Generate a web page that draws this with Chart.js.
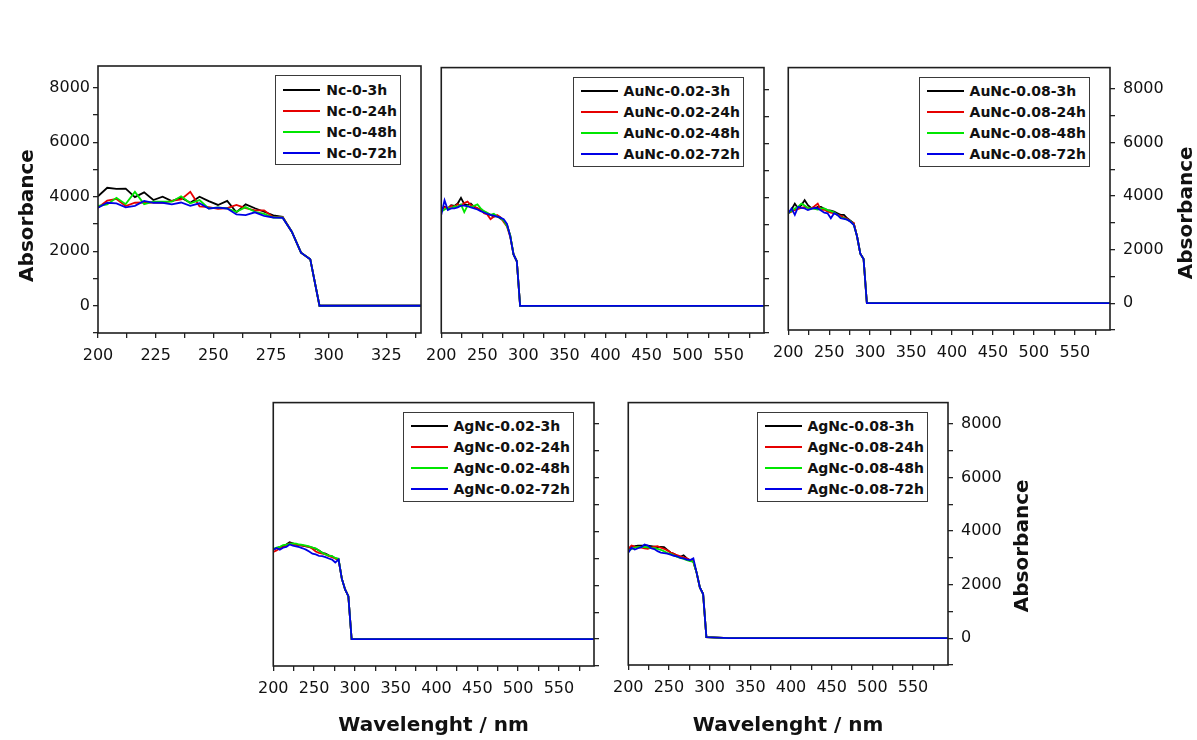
<!DOCTYPE html>
<html>
<head>
<meta charset="utf-8">
<script src="https://cdn.jsdelivr.net/npm/chart.js@4.4.1/dist/chart.umd.min.js"></script>
<style>
  html, body { margin: 0; padding: 0; background: #fff; overflow: hidden; }
  #figure { position: relative; width: 1197px; height: 740px; }
  .panel { position: absolute; }
  .panel canvas { display: block; }
  .legend { position: absolute; background: #fff; border: 1.5px solid #3a3a3a; padding: 3px 3px 1px 7px; }
  .legend div { display: flex; align-items: center; height: 21px; font: bold 14px "DejaVu Sans", sans-serif; color: #111; white-space: nowrap; }
  .legend span { display: inline-block; width: 37px; height: 2px; margin-right: 6px; }
</style>
</head>
<body>
<div id="figure">
  <div class="panel" style="left:0px;top:50px"><canvas id="c1" width="432" height="320"></canvas></div>
  <div class="panel" style="left:418px;top:50px"><canvas id="c2" width="362" height="320"></canvas></div>
  <div class="panel" style="left:765px;top:50px"><canvas id="c3" width="432" height="320"></canvas></div>
  <div class="panel" style="left:250px;top:385px"><canvas id="c4" width="370" height="355"></canvas></div>
  <div class="panel" style="left:605px;top:385px"><canvas id="c5" width="460" height="355"></canvas></div>
</div>
<script>
// wavelength grid (nm) shared by every spectrum
const wavelength = [200, 204, 208, 212, 216, 220, 224, 228, 232, 236, 240, 244, 248, 252,
  256, 260, 264, 268, 272, 276, 280, 284, 288, 292, 296, 324, 600];

// absorbance ticks; every second one carries a label
const absTicks = [-1000, 0, 1000, 2000, 3000, 4000, 5000, 6000, 7000, 8000];

const hours = ['3h', '24h', '48h', '72h'];
const lineColors = ['#000000', '#e60000', '#00e600', '#0000e6'];

// Nc-0
const nc0_3h  = [4020, 4330, 4290, 4300, 3990, 4160, 3880, 4000, 3840, 3970, 3780, 4000, 3840, 3700, 3850, 3430, 3720, 3580, 3450, 3320, 3260, 2720, 1950, 1710, 0, 0, 0];
const nc0_24h = [3600, 3860, 3920, 3660, 3780, 3790, 3790, 3780, 3850, 3900, 4180, 3650, 3620, 3560, 3580, 3700, 3580, 3500, 3500, 3250, 3260, 2720, 1950, 1710, 0, 0, 0];
const nc0_48h = [3660, 3720, 3960, 3730, 4180, 3730, 3820, 3820, 3820, 4020, 3760, 3880, 3570, 3610, 3570, 3450, 3620, 3450, 3370, 3240, 3240, 2720, 1950, 1710, 0, 0, 0];
const nc0_72h = [3600, 3780, 3760, 3610, 3670, 3850, 3780, 3780, 3720, 3790, 3670, 3760, 3570, 3600, 3570, 3350, 3330, 3430, 3300, 3240, 3230, 2720, 1950, 1710, 0, 0, 0];

// AuNc-0.02
const au02_3h  = [3540, 3660, 3600, 3720, 3690, 3780, 3990, 3760, 3720, 3780, 3660, 3600, 3540, 3480, 3420, 3360, 3300, 3320, 3230, 3150, 3000, 2600, 1900, 1650, 0, 0, 0];
const au02_24h = [3600, 3640, 3600, 3700, 3660, 3750, 3700, 3800, 3850, 3720, 3680, 3600, 3560, 3420, 3380, 3200, 3300, 3360, 3280, 3100, 2930, 2550, 1900, 1650, 0, 0, 0];
const au02_48h = [3480, 3560, 3620, 3600, 3680, 3660, 3750, 3460, 3700, 3650, 3700, 3750, 3600, 3500, 3440, 3360, 3400, 3300, 3250, 3150, 2950, 2600, 1900, 1650, 0, 0, 0];
const au02_72h = [3360, 3900, 3540, 3600, 3600, 3640, 3700, 3700, 3680, 3640, 3600, 3560, 3500, 3450, 3400, 3360, 3330, 3300, 3260, 3200, 3030, 2560, 1900, 1650, 0, 0, 0];

// AuNc-0.08
const au08_3h  = [3360, 3500, 3720, 3540, 3660, 3850, 3660, 3560, 3540, 3600, 3600, 3520, 3480, 3460, 3420, 3360, 3300, 3300, 3170, 3080, 2990, 2500, 1850, 1650, 0, 0, 0];
const au08_24h = [3360, 3420, 3480, 3520, 3560, 3600, 3560, 3540, 3620, 3720, 3480, 3500, 3420, 3380, 3360, 3300, 3260, 3200, 3150, 3050, 2990, 2500, 1850, 1650, 0, 0, 0];
const au08_48h = [3360, 3450, 3540, 3600, 3720, 3650, 3560, 3540, 3520, 3500, 3540, 3540, 3480, 3440, 3400, 3300, 3200, 3180, 3120, 3060, 2930, 2500, 1850, 1650, 0, 0, 0];
const au08_72h = [3360, 3540, 3300, 3600, 3560, 3540, 3480, 3520, 3560, 3540, 3460, 3380, 3360, 3170, 3360, 3300, 3180, 3150, 3120, 3040, 2930, 2500, 1850, 1650, 0, 0, 0];

// AgNc-0.02
const ag02_3h  = [3330, 3380, 3430, 3450, 3520, 3600, 3560, 3520, 3500, 3480, 3450, 3430, 3400, 3360, 3300, 3210, 3180, 3120, 3080, 3000, 2970, 2250, 1850, 1600, 0, 0, 0];
const ag02_24h = [3240, 3300, 3380, 3420, 3480, 3560, 3540, 3520, 3500, 3480, 3460, 3430, 3360, 3260, 3210, 3180, 3150, 3090, 3050, 3000, 2960, 2250, 1850, 1600, 0, 0, 0];
const ag02_48h = [3360, 3400, 3430, 3500, 3520, 3540, 3560, 3550, 3520, 3510, 3480, 3450, 3400, 3380, 3300, 3210, 3150, 3110, 3090, 3020, 2990, 2250, 1850, 1600, 0, 0, 0];
const ag02_72h = [3330, 3390, 3330, 3400, 3430, 3520, 3480, 3450, 3420, 3380, 3330, 3260, 3180, 3150, 3100, 3090, 3050, 3000, 2960, 2850, 2960, 2250, 1850, 1600, 0, 0, 0];

// AgNc-0.08
const ag08_3h  = [3280, 3430, 3440, 3460, 3460, 3460, 3460, 3440, 3420, 3400, 3410, 3400, 3300, 3200, 3150, 3080, 3040, 3100, 2980, 2900, 2860, 2450, 1900, 1650, 40, 0, 0];
const ag08_24h = [3340, 3460, 3420, 3400, 3380, 3360, 3340, 3380, 3420, 3440, 3380, 3340, 3280, 3200, 3150, 3100, 3060, 3020, 2980, 2920, 2860, 2450, 1900, 1650, 40, 0, 0];
const ag08_48h = [3280, 3330, 3380, 3400, 3410, 3400, 3390, 3370, 3360, 3340, 3300, 3250, 3180, 3150, 3100, 3040, 3000, 2960, 2920, 2880, 2860, 2450, 1900, 1650, 40, 0, 0];
const ag08_72h = [3190, 3380, 3310, 3360, 3400, 3500, 3460, 3360, 3330, 3250, 3200, 3180, 3160, 3120, 3080, 3060, 3000, 2980, 2940, 2920, 2980, 2450, 1900, 1650, 40, 0, 0];

const tickFont = { family: '"DejaVu Sans", sans-serif', size: 16 };
const titleFont = { family: '"DejaVu Sans", sans-serif', size: 20, weight: 'bold' };

// box around the plot area
const framePlugin = {
  id: 'frame',
  afterDatasetsDraw(chart) {
    const { ctx, chartArea: a } = chart;
    ctx.save();
    ctx.strokeStyle = '#1e1e1e';
    ctx.lineWidth = 1.6;
    ctx.strokeRect(a.left, a.top, a.right - a.left, a.bottom - a.top);
    ctx.restore();
  }
};

// "Absorbance" reads bottom-to-top on both sides
const yTitlePlugin = {
  id: 'yTitle',
  afterDraw(chart, args, opts) {
    if (!opts.text) return;
    const { ctx, chartArea: a } = chart;
    const x = opts.side === 'left' ? a.left - opts.gap : a.right + opts.gap;
    const y = (a.top + a.bottom) / 2 + opts.shift;
    ctx.save();
    ctx.translate(x, y);
    ctx.rotate(-Math.PI / 2);
    ctx.font = 'bold 20px "DejaVu Sans", sans-serif';
    ctx.fillStyle = '#111';
    ctx.textAlign = 'center';
    ctx.textBaseline = 'alphabetic';
    ctx.fillText(opts.text, 0, 0);
    ctx.restore();
  }
};

function addLegend(chart) {
  const box = document.createElement('div');
  box.className = 'legend';
  chart.data.datasets.forEach(ds => {
    const row = document.createElement('div');
    const swatch = document.createElement('span');
    swatch.style.background = ds.borderColor;
    row.appendChild(swatch);
    row.appendChild(document.createTextNode(ds.label));
    box.appendChild(row);
  });
  const a = chart.chartArea;
  box.style.top = (a.top + 9) + 'px';
  box.style.right = (chart.width - a.right + 20) + 'px';
  chart.canvas.parentNode.appendChild(box);
}

function panel(id, sample, series, cfg) {
  const chart = new Chart(document.getElementById(id), {
    type: 'line',
    data: {
      datasets: series.map((ys, i) => ({
        label: sample + '-' + hours[i],
        data: wavelength.map((w, j) => ({ x: w, y: ys[j] })),
        borderColor: lineColors[i],
        borderWidth: 1.8,
        pointRadius: 0,
        tension: 0,
        order: series.length - i
      }))
    },
    options: {
      responsive: false,
      animation: false,
      events: [],
      layout: { padding: cfg.pad },
      scales: {
        x: {
          type: 'linear',
          min: 200,
          max: cfg.xMax,
          afterFit: s => { s.height = cfg.xHeight; },
          border: { display: false },
          grid: { drawOnChartArea: false, tickLength: 5, color: '#222', lineWidth: 1.3 },
          ticks: {
            stepSize: cfg.xStep,
            autoSkip: false,
            maxRotation: 0,
            minRotation: 0,
            includeBounds: false,
            padding: 8,
            color: '#111',
            font: tickFont,
            callback: v => (v % cfg.xEvery === 0 ? v : '')
          },
          title: {
            display: !!cfg.xTitle,
            text: 'Wavelenght / nm',
            color: '#111',
            font: titleFont,
            padding: { top: 0, bottom: 2 }
          }
        },
        y: {
          type: 'linear',
          position: cfg.yPos,
          min: -1000,
          max: 8800,
          afterBuildTicks: s => { s.ticks = absTicks.map(v => ({ value: v })); },
          afterFit: s => { s.width = cfg.yWidth; },
          border: { display: false },
          grid: { drawOnChartArea: false, tickLength: 5, color: '#222', lineWidth: 1.3 },
          ticks: {
            autoSkip: false,
            padding: cfg.yPos === 'left' ? 3 : 8,
            color: '#111',
            font: tickFont,
            callback: v => (cfg.yLabels && v % 2000 === 0 ? v : '')
          }
        }
      },
      plugins: {
        legend: { display: false },
        tooltip: { enabled: false },
        yTitle: cfg.yTitle || {}
      }
    },
    plugins: [framePlugin, yTitlePlugin]
  });
  addLegend(chart);
  return chart;
}

panel('c1', 'Nc-0', [nc0_3h, nc0_24h, nc0_48h, nc0_72h], {
  pad: { left: 0, top: 16, right: 11, bottom: 0 },
  xMax: 340, xStep: 12.5, xEvery: 25, xHeight: 37,
  yPos: 'left', yWidth: 98, yLabels: true,
  yTitle: { text: 'Absorbance', side: 'left', gap: 65, shift: 16 }
});

panel('c2', 'AuNc-0.02', [au02_3h, au02_24h, au02_48h, au02_72h], {
  pad: { left: 23, top: 15, right: 0, bottom: 0 },
  xMax: 593, xStep: 25, xEvery: 50, xHeight: 37,
  yPos: 'right', yWidth: 16, yLabels: false
});

panel('c3', 'AuNc-0.08', [au08_3h, au08_24h, au08_48h, au08_72h], {
  pad: { left: 21, top: 13, right: 0, bottom: 0 },
  xMax: 593, xStep: 25, xEvery: 50, xHeight: 40,
  yPos: 'right', yWidth: 87, yLabels: true,
  yTitle: { text: 'Absorbance', side: 'right', gap: 82, shift: 14 }
});

panel('c4', 'AgNc-0.02', [ag02_3h, ag02_24h, ag02_48h, ag02_72h], {
  pad: { left: 22, top: 13, right: 0, bottom: 0 },
  xMax: 593, xStep: 25, xEvery: 50, xHeight: 74, xTitle: true,
  yPos: 'right', yWidth: 26, yLabels: false
});

panel('c5', 'AgNc-0.08', [ag08_3h, ag08_24h, ag08_48h, ag08_72h], {
  pad: { left: 20, top: 12, right: 0, bottom: 0 },
  xMax: 593, xStep: 25, xEvery: 50, xHeight: 75, xTitle: true,
  yPos: 'right', yWidth: 117, yLabels: true,
  yTitle: { text: 'Absorbance', side: 'right', gap: 80, shift: 12 }
});
</script>
</body>
</html>
